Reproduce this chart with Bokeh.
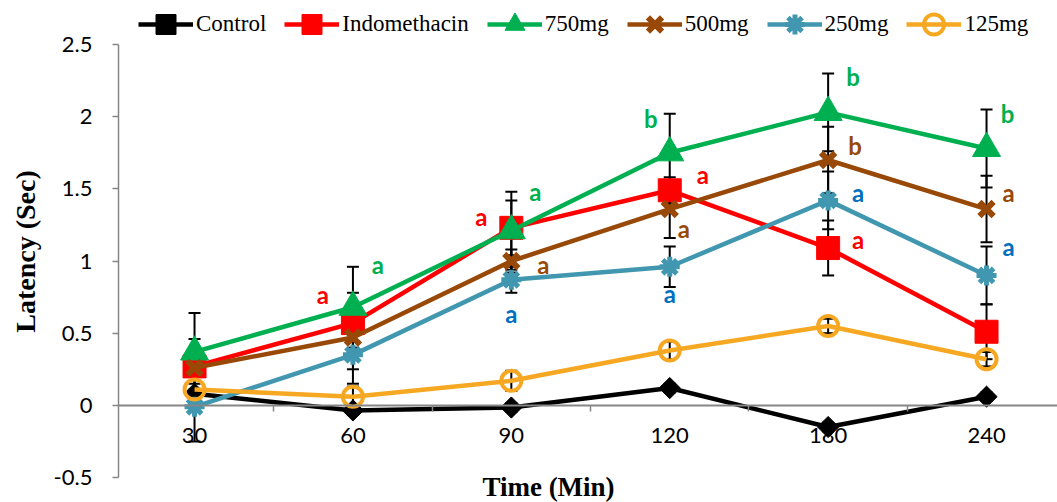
import math
from bokeh.plotting import figure
from bokeh.models import (Range1d, FixedTicker, Legend, LegendItem, Label, ColumnDataSource)
from bokeh.core.properties import value
from bokeh.embed import file_html
from bokeh.resources import INLINE

# ---------------- data ----------------
times = ["30", "60", "90", "120", "180", "240"]

control = [0.08, -0.035, -0.015, 0.12, -0.15, 0.06]
control_err = [0.03, 0.03, 0.03, 0.03, 0.03, 0.03]

indomethacin = [0.27, 0.57, 1.23, 1.49, 1.09, 0.51]
indomethacin_err = [0.19, 0.21, 0.19, 0.09, 0.19, 0.19]

mg750 = [0.37, 0.68, 1.21, 1.75, 2.03, 1.78]
mg750_err = [0.27, 0.28, 0.27, 0.27, 0.27, 0.27]

mg500 = [0.26, 0.47, 1.00, 1.36, 1.70, 1.36]
mg500_err = [0.05, 0.22, 0.08, 0.20, 0.23, 0.23]

mg250 = [-0.01, 0.35, 0.87, 0.96, 1.42, 0.90]
mg250_err = [0.24, 0.20, 0.09, 0.14, 0.20, 0.20]

mg125 = [0.11, 0.06, 0.17, 0.38, 0.55, 0.32]
mg125_err = [0.04, 0.07, 0.07, 0.06, 0.05, 0.05]

series_names = ["Control", "Indomethacin", "750mg", "500mg", "250mg", "125mg"]

y_tick_labels = ["-0.5", "0", "0.5", "1", "1.5", "2", "2.5"]

# significance letters: series, time, letter
ann_series = ["Indomethacin", "750mg",
              "Indomethacin", "750mg", "500mg", "250mg",
              "750mg", "Indomethacin", "500mg", "250mg",
              "750mg", "500mg", "250mg", "Indomethacin",
              "750mg", "500mg", "250mg"]
ann_time = ["60", "60",
            "90", "90", "90", "90",
            "120", "120", "120", "120",
            "180", "180", "180", "180",
            "240", "240", "240"]
ann_text = ["a", "a",
            "a", "a", "a", "a",
            "b", "a", "a", "a",
            "b", "b", "a", "a",
            "b", "a", "a"]
# pixel offsets of letters from their point (style/placement)
ann_dx = [-30, 25, -30, 24, 32, 0, -19, 33, 14, 0, 25, 27, 30, 30, 21, 22, 22]
ann_dy = [-29, -43, -11, -39, 3, 34, -34, -16, 19, 27, -36, -14, -8, -9, -35, -17, -29]

# ---------------- styles ----------------
values_map = {"Control": control, "Indomethacin": indomethacin, "750mg": mg750,
              "500mg": mg500, "250mg": mg250, "125mg": mg125}
err_map = {"Control": control_err, "Indomethacin": indomethacin_err, "750mg": mg750_err,
           "500mg": mg500_err, "250mg": mg250_err, "125mg": mg125_err}
colors = {"Control": "#000000", "Indomethacin": "#FF0000", "750mg": "#00B050",
          "500mg": "#984807", "250mg": "#4197B0", "125mg": "#F7A823"}
letter_colors = {"Indomethacin": "#FF0000", "750mg": "#00B050",
                 "500mg": "#984807", "250mg": "#0070C0"}
markers = {
    "Control": dict(marker="square", size=15, angle=math.pi / 4, fill_color="#000000", line_color="#000000", line_width=1),
    "Indomethacin": dict(marker="square", size=23, fill_color="#FF0000", line_color="#FF0000", line_width=1),
    "750mg": dict(marker="triangle", size=28, fill_color="#00B050", line_color="#00B050", line_width=1),
    "500mg": dict(marker="x", size=20, fill_color=None, line_color="#984807", line_width=6),
    "250mg": dict(marker="asterisk", size=20, fill_color=None, line_color="#4197B0", line_width=5),
    "125mg": dict(marker="circle", size=20, fill_color=None, line_color="#F7A823", line_width=4),
}

xs = list(range(len(times)))
bounds = [i - 0.5 for i in xs] + [xs[-1] + 0.5]
y_ticks = [float(s) for s in y_tick_labels]

# frame covers the whole canvas right of the y axis; the value axis is bounded to -0.5..2.5
p = figure(width=1057, height=502,
           x_range=Range1d(-0.48, 5.448), y_range=Range1d(-0.673, 2.805),
           output_backend="svg", toolbar_location=None,
           min_border_left=118, min_border_right=0, min_border_top=0, min_border_bottom=0)
p.xgrid.visible = False
p.ygrid.visible = False
p.outline_line_color = None

# x axis crossing at y = 0
xa = p.xaxis[0]
xa.fixed_location = 0
xa.ticker = FixedTicker(ticks=xs, minor_ticks=bounds)
xa.major_label_overrides = {i: t for i, t in zip(xs, times)}
xa.major_tick_out = 0
xa.major_tick_in = 0
xa.minor_tick_out = 6
xa.minor_tick_in = 0
xa.minor_tick_line_color = "#868686"
xa.minor_tick_line_width = 1.5
xa.axis_line_color = "#868686"
xa.axis_line_width = 2
xa.major_label_text_font = "Lato"
xa.major_label_text_font_size = "22px"
xa.major_label_text_color = "#000000"
xa.major_label_standoff = 17

ya = p.yaxis[0]
ya.bounds = (y_ticks[0], y_ticks[-1])
ya.ticker = FixedTicker(ticks=y_ticks)
ya.major_label_overrides = {t: s for t, s in zip(y_ticks, y_tick_labels)}
ya.major_tick_out = 6
ya.major_tick_in = 0
ya.minor_tick_out = 0
ya.minor_tick_in = 0
ya.major_tick_line_color = "#868686"
ya.major_tick_line_width = 1.5
ya.axis_line_color = "#868686"
ya.axis_line_width = 1.5
ya.major_label_text_font = "Lato"
ya.major_label_text_font_size = "22px"
ya.major_label_text_color = "#000000"
ya.major_label_standoff = 20
ya.axis_label = "Latency (Sec)"
ya.axis_label_text_font = "Liberation Serif"
ya.axis_label_text_font_style = "bold"
ya.axis_label_text_font_size = "28px"
ya.axis_label_text_color = "#000000"
ya.axis_label_standoff = 10

# error bars
for name in series_names:
    v = values_map[name]
    e = err_map[name]
    src = ColumnDataSource(dict(x=xs, lo=[a - b for a, b in zip(v, e)], hi=[a + b for a, b in zip(v, e)]))
    p.segment(x0="x", y0="lo", x1="x", y1="hi", source=src, line_color="black", line_width=2)
    p.scatter(x="x", y="hi", source=src, marker="dash", size=12, line_color="black", line_width=2)
    p.scatter(x="x", y="lo", source=src, marker="dash", size=12, line_color="black", line_width=2)

items = []
for name in series_names:
    v = values_map[name]
    lr = p.line(xs, v, line_color=colors[name], line_width=4.5, line_join="round")
    sr = p.scatter(xs, v, **markers[name])
    items.append(LegendItem(label=name, renderers=[lr, sr]))

# letters
ann_x = [times.index(t) for t in ann_time]
ann_y = [values_map[s][times.index(t)] for s, t in zip(ann_series, ann_time)]
ann_src = ColumnDataSource(dict(x=ann_x, y=ann_y, text=ann_text, dx=ann_dx, dy=ann_dy,
                                color=[letter_colors[s] for s in ann_series]))
p.text(x="x", y="y", text="text", x_offset="dx", y_offset="dy", source=ann_src,
       text_color="color", text_font=value("Lato"), text_font_style="bold",
       text_font_size="24px", text_align="center", text_baseline="middle")

legend = Legend(items=items, orientation="horizontal", location=(20, 453),
                glyph_width=55, glyph_height=50, label_standoff=3, spacing=18,
                padding=0, margin=0, border_line_color=None, background_fill_alpha=0,
                label_text_font="Liberation Serif", label_text_font_size="23px",
                label_text_color="#000000")
p.add_layout(legend, "center")

p.add_layout(Label(x=430, y=31, x_units="screen", y_units="screen", text="Time (Min)",
                   text_align="center", text_baseline="top",
                   text_font="Liberation Serif", text_font_style="bold",
                   text_font_size="27px", text_color="#000000"))

open("out.html", "w").write(file_html(p, INLINE))
